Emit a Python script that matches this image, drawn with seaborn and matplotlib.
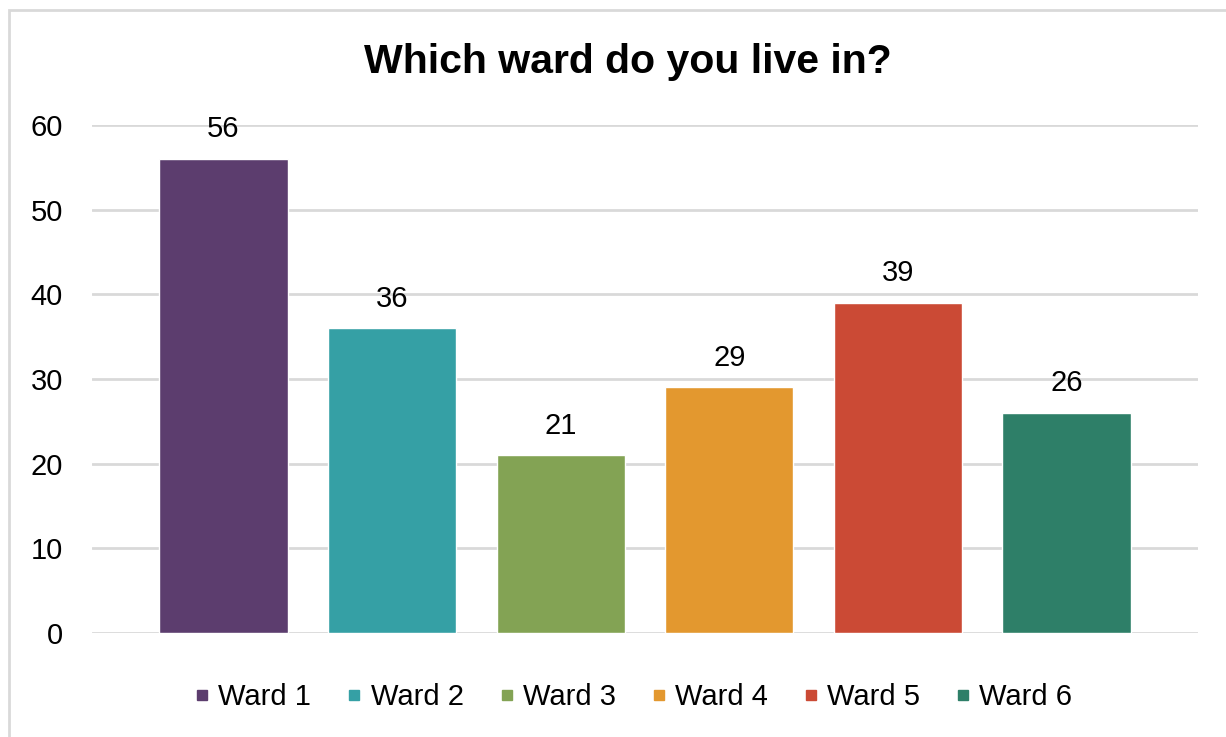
import matplotlib
matplotlib.use("Agg")
import matplotlib.pyplot as plt
import seaborn as sns
import pandas as pd
from matplotlib.patches import Rectangle
from matplotlib.lines import Line2D

categories = ["Ward 1", "Ward 2", "Ward 3", "Ward 4", "Ward 5", "Ward 6"]
values = [56, 36, 21, 29, 39, 26]
colors = ["#5C3D6E", "#35A0A5", "#83A354", "#E3982F", "#CB4A35", "#2E7F68"]
yticks = [0, 10, 20, 30, 40, 50, 60]
title = "Which ward do you live in?"

sns.set_theme(style="white")
plt.rcParams["font.family"] = ["Liberation Sans", "DejaVu Sans"]
plt.rcParams["text.color"] = "black"

df = pd.DataFrame({"ward": categories, "count": values})

fig = plt.figure(figsize=(12.26, 7.37), dpi=100)
ax = fig.add_axes([92/1226, 1-633/737, (1198-92)/1226, (633-125)/737])

fig.patches.append(Rectangle((9/1226, -0.05), 1.2, 1-10/737+0.05, transform=fig.transFigure,
                             fill=False, edgecolor="#D9D9D9", linewidth=2))

sns.barplot(data=df, x="ward", y="count", hue="ward", palette=colors, order=categories,
            hue_order=categories, width=0.76, dodge=False, legend=False, saturation=1,
            ax=ax, zorder=3)

ax.set_xlim(-0.78, 5.78)
ax.set_ylim(0, 60)
ax.set_yticks(yticks)
ax.yaxis.grid(True, color="#D9D9D9", linewidth=2, zorder=0)
ax.set_axisbelow(True)
for s in ax.spines.values():
    s.set_visible(False)
ax.set_xticks([])
ax.set_xlabel("")
ax.set_ylabel("")
ax.tick_params(axis="y", labelsize=21, colors="black", length=0, pad=21)

for i, v in enumerate(values):
    ax.text(i, v + 3.5, str(v), ha="center", va="center", fontsize=21, color="black", clip_on=False)

fig.text(628/1226, 1-62/737, title, ha="center", va="center", fontsize=29.5,
         fontweight="bold", color="black")

handles = [Line2D([], [], marker="s", linestyle="", markersize=7, markerfacecolor=c,
                  markeredgecolor=c) for c in colors]
fig.legend(handles, categories, loc="center", bbox_to_anchor=(630/1226, 1-697/737), ncol=6,
           frameon=False, fontsize=21, handletextpad=0.05, columnspacing=0.98, handlelength=1.0)

fig.savefig("out.png", dpi=100)
